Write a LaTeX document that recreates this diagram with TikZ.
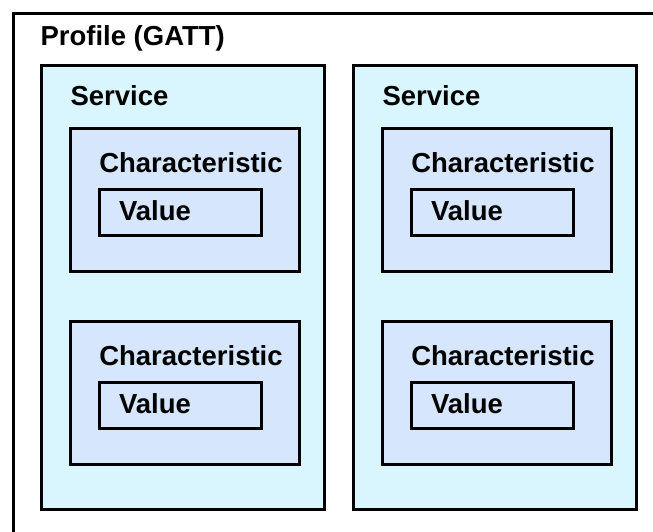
\documentclass[tikz,border=0pt]{standalone}
\usepackage{fontspec}
\setmainfont{Liberation Sans}
\definecolor{servfill}{RGB}{217,246,254}
\definecolor{charfill}{RGB}{214,230,252}
\begin{document}
\begin{tikzpicture}[x=1pt, y=-1pt, line width=3pt,
		box/.style = {draw, rectangle, inner sep=0pt, outer sep=0pt},
		serv/.style = {box, fill=servfill, minimum width=283pt, minimum height=443pt},
		chr/.style = {box, fill=charfill, minimum width=229pt, minimum height=143.5pt},
		val/.style = {box, fill=charfill, minimum width=162pt, minimum height=46pt},
		lbl/.style = {anchor=base west, inner sep=0pt, font=\fontsize{27.5}{32}\selectfont\bfseries}]
		\clip (0,0) rectangle (653,532);
		\coordinate (frame) at (13.5,13.5);
		\draw (frame) rectangle (700,600);
		\node[lbl] (lp) at ([shift={(25.5,32.5)}]frame) {Profile (GATT)};
		% services
		\node[serv] (s1) at (182.5,287.5) {};
		\node[serv] (s2) at (494.5,287.5) {};
		\node[lbl] (ls1) at ([shift={(28,40)}]s1.north west) {Service};
		\node[lbl] (ls2) at ([shift={(28,40)}]s2.north west) {Service};
		% characteristics
		\node[chr] (c1) at (184.75,200) {};
		\node[chr] (c2) at (184.75,393) {};
		\node[chr] (c3) at (496.75,200) {};
		\node[chr] (c4) at (496.75,393) {};
		\node[lbl] (lc1) at ([shift={(27.5,44.5)}]c1.north west) {Characteristic};
		\node[lbl] (lc2) at ([shift={(27.5,44.5)}]c2.north west) {Characteristic};
		\node[lbl] (lc3) at ([shift={(27.5,44.5)}]c3.north west) {Characteristic};
		\node[lbl] (lc4) at ([shift={(27.5,44.5)}]c4.north west) {Characteristic};
		% values
		\node[val] (v1) at (180,212) {};
		\node[val] (v2) at (180,405) {};
		\node[val] (v3) at (492,212) {};
		\node[val] (v4) at (492,405) {};
		\node[lbl] (lv1) at ([shift={(18.5,31)}]v1.north west) {Value};
		\node[lbl] (lv2) at ([shift={(18.5,31)}]v2.north west) {Value};
		\node[lbl] (lv3) at ([shift={(18.5,31)}]v3.north west) {Value};
		\node[lbl] (lv4) at ([shift={(18.5,31)}]v4.north west) {Value};
	\end{tikzpicture}
\end{document}
